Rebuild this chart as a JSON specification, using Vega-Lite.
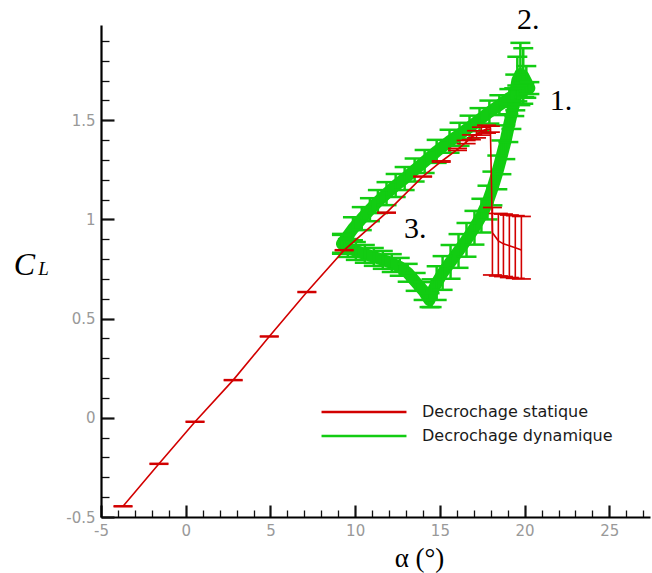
{
  "$schema": "https://vega.github.io/schema/vega-lite/v6.json",
  "autosize": {"type": "none"},
  "padding": {"left": 101, "top": 25, "right": 2, "bottom": 56},
  "width": 549,
  "height": 492,
  "background": "white",
  "config": {"view": {"stroke": null}},
  "datasets": {
    "stat": [
      {"s": "Decrochage statique", "i": 1, "alpha": -3.70, "CL": -0.446, "lo": -0.448, "hi": -0.444},
      {"s": "Decrochage statique", "i": 2, "alpha": -1.58, "CL": -0.232, "lo": -0.234, "hi": -0.230},
      {"s": "Decrochage statique", "i": 3, "alpha": 0.55, "CL": -0.020, "lo": -0.022, "hi": -0.018},
      {"s": "Decrochage statique", "i": 4, "alpha": 2.80, "CL": 0.190, "lo": 0.188, "hi": 0.192},
      {"s": "Decrochage statique", "i": 5, "alpha": 4.93, "CL": 0.410, "lo": 0.408, "hi": 0.412},
      {"s": "Decrochage statique", "i": 6, "alpha": 7.15, "CL": 0.634, "lo": 0.632, "hi": 0.636},
      {"s": "Decrochage statique", "i": 7, "alpha": 9.35, "CL": 0.845, "lo": 0.843, "hi": 0.847},
      {"s": "Decrochage statique", "i": 8, "alpha": 11.85, "CL": 1.034, "lo": 1.032, "hi": 1.036},
      {"s": "Decrochage statique", "i": 9, "alpha": 13.98, "CL": 1.216, "lo": 1.214, "hi": 1.218},
      {"s": "Decrochage statique", "i": 10, "alpha": 15.08, "CL": 1.292, "lo": 1.289, "hi": 1.295},
      {"s": "Decrochage statique", "i": 11, "alpha": 16.04, "CL": 1.353, "lo": 1.348, "hi": 1.358},
      {"s": "Decrochage statique", "i": 12, "alpha": 16.55, "CL": 1.390, "lo": 1.382, "hi": 1.398},
      {"s": "Decrochage statique", "i": 13, "alpha": 16.86, "CL": 1.414, "lo": 1.402, "hi": 1.426},
      {"s": "Decrochage statique", "i": 14, "alpha": 17.16, "CL": 1.429, "lo": 1.411, "hi": 1.447},
      {"s": "Decrochage statique", "i": 15, "alpha": 17.45, "CL": 1.445, "lo": 1.425, "hi": 1.465},
      {"s": "Decrochage statique", "i": 16, "alpha": 17.75, "CL": 1.455, "lo": 1.435, "hi": 1.475},
      {"s": "Decrochage statique", "i": 17, "alpha": 17.98, "CL": 1.455, "lo": 1.440, "hi": 1.470},
      {"s": "Decrochage statique", "i": 18, "alpha": 18.10, "CL": 0.933, "lo": 0.720, "hi": 1.060},
      {"s": "Decrochage statique", "i": 19, "alpha": 18.45, "CL": 0.892, "lo": 0.715, "hi": 1.030},
      {"s": "Decrochage statique", "i": 20, "alpha": 18.75, "CL": 0.877, "lo": 0.712, "hi": 1.027},
      {"s": "Decrochage statique", "i": 21, "alpha": 19.10, "CL": 0.867, "lo": 0.707, "hi": 1.022},
      {"s": "Decrochage statique", "i": 22, "alpha": 19.45, "CL": 0.857, "lo": 0.703, "hi": 1.019},
      {"s": "Decrochage statique", "i": 23, "alpha": 19.81, "CL": 0.846, "lo": 0.700, "hi": 1.015}
    ],
    "dyn": [
      {"s": "Decrochage dynamique", "i": 1, "alpha": 9.22, "CL": 0.877, "lo": 0.827, "hi": 0.927},
      {"s": "Decrochage dynamique", "i": 2, "alpha": 9.87, "CL": 0.953, "lo": 0.895, "hi": 1.011},
      {"s": "Decrochage dynamique", "i": 3, "alpha": 10.39, "CL": 1.004, "lo": 0.946, "hi": 1.062},
      {"s": "Decrochage dynamique", "i": 4, "alpha": 10.87, "CL": 1.049, "lo": 0.991, "hi": 1.107},
      {"s": "Decrochage dynamique", "i": 5, "alpha": 11.34, "CL": 1.090, "lo": 1.032, "hi": 1.148},
      {"s": "Decrochage dynamique", "i": 6, "alpha": 11.85, "CL": 1.130, "lo": 1.072, "hi": 1.188},
      {"s": "Decrochage dynamique", "i": 7, "alpha": 12.39, "CL": 1.171, "lo": 1.113, "hi": 1.229},
      {"s": "Decrochage dynamique", "i": 8, "alpha": 12.92, "CL": 1.206, "lo": 1.148, "hi": 1.264},
      {"s": "Decrochage dynamique", "i": 9, "alpha": 13.51, "CL": 1.249, "lo": 1.191, "hi": 1.307},
      {"s": "Decrochage dynamique", "i": 10, "alpha": 14.10, "CL": 1.292, "lo": 1.234, "hi": 1.350},
      {"s": "Decrochage dynamique", "i": 11, "alpha": 14.81, "CL": 1.343, "lo": 1.285, "hi": 1.401},
      {"s": "Decrochage dynamique", "i": 12, "alpha": 15.57, "CL": 1.394, "lo": 1.336, "hi": 1.452},
      {"s": "Decrochage dynamique", "i": 13, "alpha": 16.16, "CL": 1.429, "lo": 1.371, "hi": 1.487},
      {"s": "Decrochage dynamique", "i": 14, "alpha": 16.75, "CL": 1.465, "lo": 1.407, "hi": 1.523},
      {"s": "Decrochage dynamique", "i": 15, "alpha": 17.34, "CL": 1.503, "lo": 1.445, "hi": 1.561},
      {"s": "Decrochage dynamique", "i": 16, "alpha": 17.92, "CL": 1.541, "lo": 1.483, "hi": 1.599},
      {"s": "Decrochage dynamique", "i": 17, "alpha": 18.51, "CL": 1.576, "lo": 1.526, "hi": 1.626},
      {"s": "Decrochage dynamique", "i": 18, "alpha": 19.10, "CL": 1.612, "lo": 1.567, "hi": 1.657},
      {"s": "Decrochage dynamique", "i": 19, "alpha": 19.57, "CL": 1.635, "lo": 1.595, "hi": 1.675},
      {"s": "Decrochage dynamique", "i": 20, "alpha": 19.98, "CL": 1.652, "lo": 1.617, "hi": 1.687},
      {"s": "Decrochage dynamique", "i": 21, "alpha": 20.28, "CL": 1.662, "lo": 1.632, "hi": 1.692},
      {"s": "Decrochage dynamique", "i": 22, "alpha": 20.10, "CL": 1.693, "lo": 1.613, "hi": 1.773},
      {"s": "Decrochage dynamique", "i": 23, "alpha": 19.92, "CL": 1.723, "lo": 1.583, "hi": 1.863},
      {"s": "Decrochage dynamique", "i": 24, "alpha": 19.75, "CL": 1.733, "lo": 1.576, "hi": 1.890},
      {"s": "Decrochage dynamique", "i": 25, "alpha": 19.57, "CL": 1.700, "lo": 1.580, "hi": 1.820},
      {"s": "Decrochage dynamique", "i": 26, "alpha": 19.45, "CL": 1.640, "lo": 1.550, "hi": 1.730},
      {"s": "Decrochage dynamique", "i": 27, "alpha": 19.39, "CL": 1.591, "lo": 1.521, "hi": 1.661},
      {"s": "Decrochage dynamique", "i": 28, "alpha": 19.22, "CL": 1.526, "lo": 1.456, "hi": 1.596},
      {"s": "Decrochage dynamique", "i": 29, "alpha": 19.04, "CL": 1.460, "lo": 1.390, "hi": 1.530},
      {"s": "Decrochage dynamique", "i": 30, "alpha": 18.86, "CL": 1.389, "lo": 1.304, "hi": 1.474},
      {"s": "Decrochage dynamique", "i": 31, "alpha": 18.63, "CL": 1.313, "lo": 1.228, "hi": 1.398},
      {"s": "Decrochage dynamique", "i": 32, "alpha": 18.39, "CL": 1.237, "lo": 1.152, "hi": 1.322},
      {"s": "Decrochage dynamique", "i": 33, "alpha": 18.10, "CL": 1.156, "lo": 1.071, "hi": 1.241},
      {"s": "Decrochage dynamique", "i": 34, "alpha": 17.81, "CL": 1.085, "lo": 1.000, "hi": 1.170},
      {"s": "Decrochage dynamique", "i": 35, "alpha": 17.45, "CL": 1.019, "lo": 0.934, "hi": 1.104},
      {"s": "Decrochage dynamique", "i": 36, "alpha": 17.04, "CL": 0.958, "lo": 0.873, "hi": 1.043},
      {"s": "Decrochage dynamique", "i": 37, "alpha": 16.57, "CL": 0.897, "lo": 0.812, "hi": 0.982},
      {"s": "Decrochage dynamique", "i": 38, "alpha": 16.10, "CL": 0.841, "lo": 0.756, "hi": 0.926},
      {"s": "Decrochage dynamique", "i": 39, "alpha": 15.63, "CL": 0.786, "lo": 0.701, "hi": 0.871},
      {"s": "Decrochage dynamique", "i": 40, "alpha": 15.16, "CL": 0.730, "lo": 0.645, "hi": 0.815},
      {"s": "Decrochage dynamique", "i": 41, "alpha": 14.81, "CL": 0.679, "lo": 0.594, "hi": 0.764},
      {"s": "Decrochage dynamique", "i": 42, "alpha": 14.51, "CL": 0.628, "lo": 0.558, "hi": 0.698},
      {"s": "Decrochage dynamique", "i": 43, "alpha": 14.39, "CL": 0.593, "lo": 0.558, "hi": 0.628},
      {"s": "Decrochage dynamique", "i": 44, "alpha": 14.04, "CL": 0.639, "lo": 0.594, "hi": 0.684},
      {"s": "Decrochage dynamique", "i": 45, "alpha": 13.57, "CL": 0.685, "lo": 0.640, "hi": 0.730},
      {"s": "Decrochage dynamique", "i": 46, "alpha": 13.10, "CL": 0.731, "lo": 0.686, "hi": 0.776},
      {"s": "Decrochage dynamique", "i": 47, "alpha": 12.63, "CL": 0.761, "lo": 0.716, "hi": 0.806},
      {"s": "Decrochage dynamique", "i": 48, "alpha": 12.16, "CL": 0.780, "lo": 0.735, "hi": 0.825},
      {"s": "Decrochage dynamique", "i": 49, "alpha": 11.63, "CL": 0.796, "lo": 0.751, "hi": 0.841},
      {"s": "Decrochage dynamique", "i": 50, "alpha": 11.10, "CL": 0.811, "lo": 0.766, "hi": 0.856},
      {"s": "Decrochage dynamique", "i": 51, "alpha": 10.57, "CL": 0.826, "lo": 0.781, "hi": 0.871},
      {"s": "Decrochage dynamique", "i": 52, "alpha": 10.04, "CL": 0.841, "lo": 0.796, "hi": 0.886},
      {"s": "Decrochage dynamique", "i": 53, "alpha": 9.57, "CL": 0.856, "lo": 0.811, "hi": 0.901},
      {"s": "Decrochage dynamique", "i": 54, "alpha": 9.22, "CL": 0.877, "lo": 0.832, "hi": 0.922}
    ],
    "notes": [
      {"t": "1.", "alpha": 22.15, "CL": 1.599},
      {"t": "2.", "alpha": 20.21, "CL": 2.005},
      {"t": "3.", "alpha": 13.54, "CL": 0.952},
      {"t": "L", "alpha": -8.39, "CL": 0.75}
    ]
  },
  "encoding": {
    "x": {
      "field": "alpha",
      "type": "quantitative",
      "scale": {"domain": [-5, 27.4], "nice": false, "zero": false},
      "axis": {
        "title": "α (°)",
        "values": [-5, -4, -3, -2, -1, 0, 1, 2, 3, 4, 5, 6, 7, 8, 9, 10, 11, 12, 13, 14, 15, 16, 17, 18, 19, 20, 21, 22, 23, 24, 25, 26, 27],
        "labelExpr": "datum.value % 5 === 0 ? '' + datum.value : ''",
        "tickSize": {"condition": {"test": "datum.value % 5 === 0", "value": -12}, "value": -7},
        "tickWidth": {"condition": {"test": "datum.value % 5 === 0", "value": 2.2}, "value": 1.3},
        "tickColor": "#111111",
        "domainColor": "#000000",
        "domainWidth": 2.2,
        "grid": false,
        "labelFont": "DejaVu Sans",
        "labelFontSize": 15,
        "labelColor": "#999999",
        "labelPadding": 18,
        "labelOverlap": false,
        "labelFlush": false,
        "titleFont": "Liberation Serif",
        "titleFontSize": 27,
        "titleFontWeight": "normal",
        "titleColor": "#000000",
        "titleX": 318,
        "titleY": 41,
        "titleAlign": "center",
        "titleBaseline": "middle"
      }
    },
    "y": {
      "field": "CL",
      "type": "quantitative",
      "scale": {"domain": [-0.5, 1.98], "nice": false, "zero": false},
      "axis": {
        "title": "C",
        "values": [-0.5, -0.4, -0.3, -0.2, -0.1, 0, 0.1, 0.2, 0.3, 0.4, 0.5, 0.6, 0.7, 0.8, 0.9, 1, 1.1, 1.2, 1.3, 1.4, 1.5, 1.6, 1.7, 1.8, 1.9],
        "labelExpr": "abs(round(datum.value * 10)) % 5 === 0 ? '' + datum.value : ''",
        "tickSize": {"condition": {"test": "abs(round(datum.value * 10)) % 5 === 0", "value": -13}, "value": -8},
        "tickWidth": {"condition": {"test": "abs(round(datum.value * 10)) % 5 === 0", "value": 2.2}, "value": 1.3},
        "tickColor": "#111111",
        "domainColor": "#000000",
        "domainWidth": 2.2,
        "grid": false,
        "labelFont": "DejaVu Sans",
        "labelFontSize": 15,
        "labelColor": "#999999",
        "labelPadding": 19,
        "labelOverlap": false,
        "labelFlush": false,
        "titleFont": "Liberation Serif",
        "titleFontStyle": "italic",
        "titleFontSize": 32,
        "titleFontWeight": "normal",
        "titleColor": "#000000",
        "titleAngle": 0,
        "titleX": -77,
        "titleY": 239,
        "titleAlign": "center",
        "titleBaseline": "middle"
      }
    }
  },
  "layer": [
    {
      "data": {"name": "dyn"},
      "mark": {"type": "line", "strokeWidth": 12, "strokeJoin": "round", "strokeCap": "round"},
      "encoding": {
        "order": {"field": "i", "type": "quantitative"},
        "color": {
          "field": "s",
          "type": "nominal",
          "scale": {"domain": ["Decrochage statique", "Decrochage dynamique"], "range": ["#d20000", "#12cc12"]},
          "legend": {
            "title": null,
            "orient": "none",
            "legendX": 251,
            "legendY": 375,
            "symbolType": "M-4,0H4",
            "symbolSize": 451,
            "symbolStrokeWidth": 2.5,
            "labelFont": "DejaVu Sans",
            "labelFontSize": 16,
            "labelColor": "#1a1a1a",
            "labelOffset": 46,
            "labelLimit": 400,
            "rowPadding": 4
          }
        }
      }
    },
    {
      "data": {"name": "dyn"},
      "mark": {"type": "rule", "color": "#12cc12", "strokeWidth": 2.5},
      "encoding": {"y": {"field": "lo", "type": "quantitative"}, "y2": {"field": "hi"}}
    },
    {
      "data": {"name": "dyn"},
      "mark": {"type": "tick", "orient": "horizontal", "color": "#12cc12", "size": 20, "thickness": 2.5, "opacity": 1},
      "encoding": {"y": {"field": "lo", "type": "quantitative"}}
    },
    {
      "data": {"name": "dyn"},
      "mark": {"type": "tick", "orient": "horizontal", "color": "#12cc12", "size": 20, "thickness": 2.5, "opacity": 1},
      "encoding": {"y": {"field": "hi", "type": "quantitative"}}
    },
    {
      "data": {"name": "stat"},
      "mark": {"type": "line", "strokeWidth": 1.6},
      "encoding": {
        "order": {"field": "i", "type": "quantitative"},
        "color": {"field": "s", "type": "nominal"}
      }
    },
    {
      "data": {"name": "stat"},
      "mark": {"type": "rule", "color": "#d20000", "strokeWidth": 1.6},
      "encoding": {"y": {"field": "lo", "type": "quantitative"}, "y2": {"field": "hi"}}
    },
    {
      "data": {"name": "stat"},
      "mark": {"type": "tick", "orient": "horizontal", "color": "#d20000", "size": 19, "thickness": 1.7, "opacity": 1},
      "encoding": {"y": {"field": "lo", "type": "quantitative"}}
    },
    {
      "data": {"name": "stat"},
      "mark": {"type": "tick", "orient": "horizontal", "color": "#d20000", "size": 19, "thickness": 1.7, "opacity": 1},
      "encoding": {"y": {"field": "hi", "type": "quantitative"}}
    },
    {
      "data": {"name": "notes"},
      "transform": [{"filter": "datum.t !== 'L'"}],
      "mark": {"type": "text", "font": "Liberation Serif", "fontSize": 30, "color": "#000000", "align": "center", "baseline": "middle"},
      "encoding": {"text": {"field": "t"}}
    },
    {
      "data": {"name": "notes"},
      "transform": [{"filter": "datum.t === 'L'"}],
      "mark": {"type": "text", "font": "Liberation Serif", "fontStyle": "italic", "fontSize": 19, "color": "#000000", "align": "center", "baseline": "middle"},
      "encoding": {"text": {"field": "t"}}
    }
  ]
}
